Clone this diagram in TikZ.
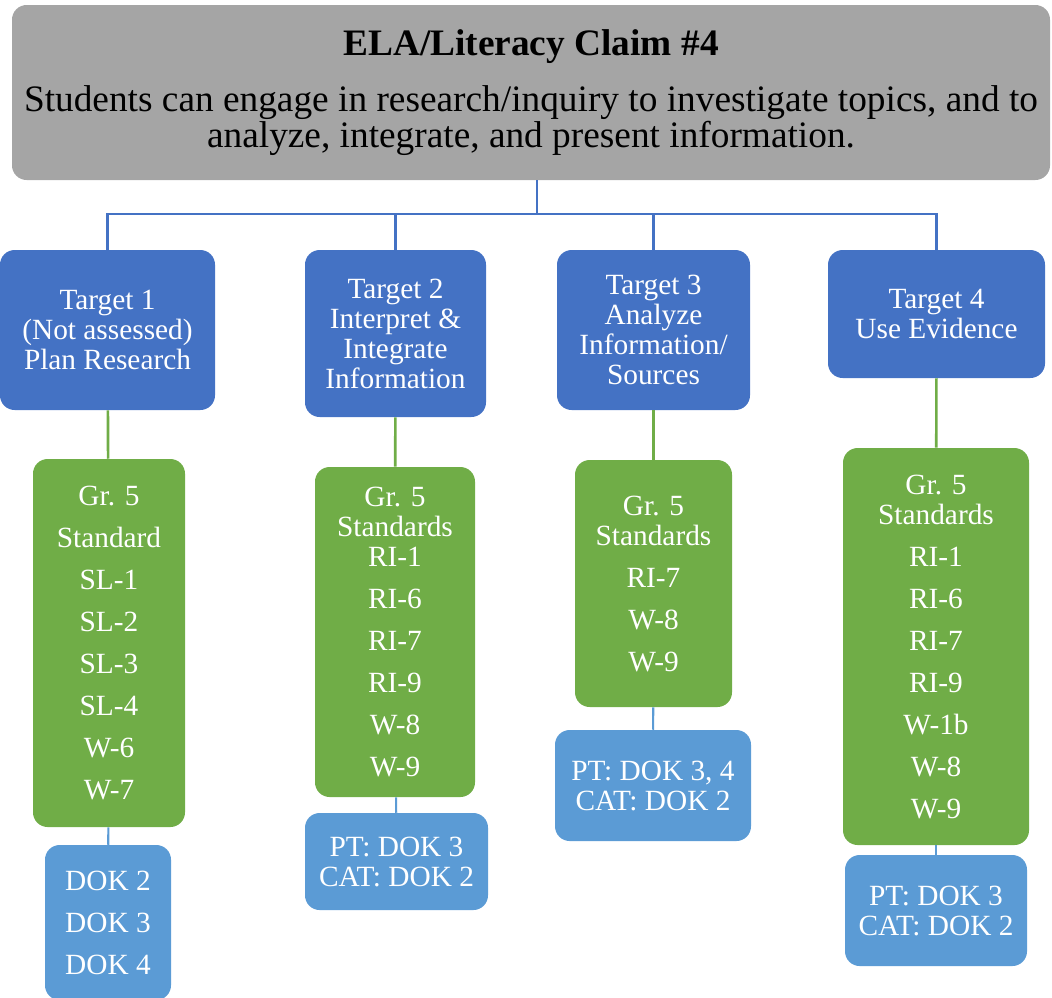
\documentclass[tikz,border=0pt]{standalone}
\usepackage{fontspec}
\setmainfont{Liberation Serif}
\usetikzlibrary{positioning}

\definecolor{claimgray}{HTML}{A5A5A5}
\definecolor{targetblue}{HTML}{4472C4}
\definecolor{stdgreen}{HTML}{70AD47}
\definecolor{dokblue}{HTML}{5B9BD5}

\begin{document}
\begin{tikzpicture}[x=0.75pt, y=-0.75pt,
		box/.style={rounded corners=11pt, inner sep=0pt, align=center, text=white, font=\fontsize{22}{22.5}\selectfont},
		claim/.style={box, fill=claimgray, text=black, font=\fontsize{28}{26.5}\selectfont},
		target/.style={box, fill=targetblue},
		std/.style={box, fill=stdgreen},
		dok/.style={box, fill=dokblue},
		busline/.style={draw=targetblue, line width=1.6pt},
		stdline/.style={draw=stdgreen, line width=2pt},
		dokline/.style={draw=dokblue, line width=1.6pt}]
		\useasboundingbox (0,0) rectangle (1052,997);

		\node [claim, minimum width=778.5pt, minimum height=131.25pt] (C) at (531,92.5)
			{\textbf{ELA/Literacy Claim \#4}\\[15.5pt]
			 Students can engage in research/inquiry to investigate topics, and to\\
			 analyze, integrate, and present information.};
		\coordinate (bus) at (537,214);

		\node [target, minimum width=161.25pt, minimum height=120pt] (T1) at (107.5,330) {Target 1\\(Not assessed)\\Plan Research};
		\node [target, minimum width=135.75pt, minimum height=125.25pt] (T2) at (395.5,333.5) {Target 2\\Interpret \&\\Integrate\\Information};
		\node [target, minimum width=144.75pt, minimum height=120pt] (T3) at (653.5,330) {Target 3\\Analyze\\Information/\\Sources};
		\node [target, minimum width=162.75pt, minimum height=96pt] (T4) at (936.5,314) {Target 4\\Use Evidence};

		\node [std, minimum width=114pt, minimum height=276pt] (G1) at (109,643)
			{Gr. 5\\[9pt]Standard\\[9pt]SL-1\\[9pt]SL-2\\[9pt]SL-3\\[9pt]SL-4\\[9pt]W-6\\[9pt]W-7};
		\node [std, minimum width=120pt, minimum height=247.5pt] (G2) at (395,632)
			{Gr. 5\\Standards\\RI-1\\[9pt]RI-6\\[9pt]RI-7\\[9pt]RI-9\\[9pt]W-8\\[9pt]W-9};
		\node [std, minimum width=117.75pt, minimum height=185.25pt] (G3) at (653.5,583.5)
			{Gr. 5\\Standards\\[9pt]RI-7\\[9pt]W-8\\[9pt]W-9};
		\node [std, minimum width=139.5pt, minimum height=297.75pt] (G4) at (936,646.5)
			{Gr. 5\\Standards\\[9pt]RI-1\\[9pt]RI-6\\[9pt]RI-7\\[9pt]RI-9\\[9pt]W-1b\\[9pt]W-8\\[9pt]W-9};

		\node [dok, minimum width=94.5pt, minimum height=116.25pt] (D1) at (108,922.5) {DOK 2\\[9pt]DOK 3\\[9pt]DOK 4};
		\node [dok, minimum width=137.25pt, minimum height=72.75pt] (D2) at (396.5,861.5) {PT: DOK 3\\CAT: DOK 2};
		\node [dok, minimum width=147pt, minimum height=83.25pt] (D3) at (653,785.5) {PT: DOK 3, 4\\CAT: DOK 2};
		\node [dok, minimum width=136.5pt, minimum height=83.25pt] (D4) at (936,910.5) {PT: DOK 3\\CAT: DOK 2};

		\path[busline] (C.south -| bus) -- (bus);
		\path[busline] (bus) -| (T1.north);
		\path[busline] (bus) -| (T2.north);
		\path[busline] (bus) -| (T3.north);
		\path[busline] (bus) -| (T4.north);

		\path[stdline] (T1) -- (G1);
		\path[stdline] (T2) -- (G2);
		\path[stdline] (T3) -- (G3);
		\path[stdline] (T4) -- (G4);

		\path[dokline] (G1) -- (D1);
		\path[dokline] (G2) -- (D2);
		\path[dokline] (G3) -- (D3);
		\path[dokline] (G4) -- (D4);
	\end{tikzpicture}
\end{document}
